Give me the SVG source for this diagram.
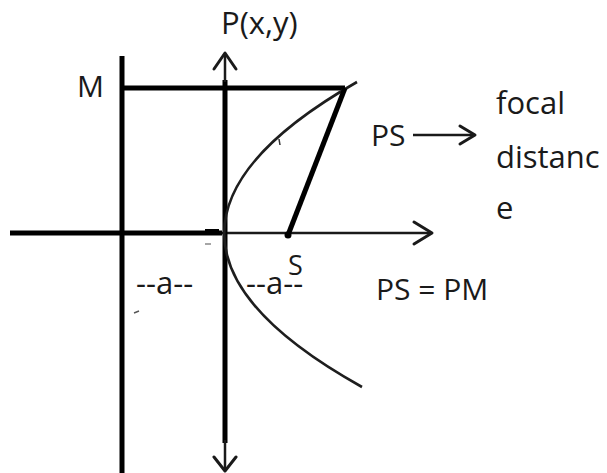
<svg xmlns="http://www.w3.org/2000/svg" width="607" height="473" viewBox="0 0 607 473">
<style>
  .thick { stroke:#000; stroke-width:5; fill:none; }
  .thin { stroke:#1a1a1a; stroke-width:2.5; fill:none; }
  .head { stroke:#1a1a1a; stroke-width:3; fill:none; stroke-linecap:round; stroke-linejoin:round; }
  .curve { stroke:#1e1e1e; stroke-width:2.6; fill:none; }
  text { font-family:"Open Sans","Liberation Sans",sans-serif; font-size:30px; fill:#1a1a1a; }
  .big { font-size:31px; }
</style>
<rect width="607" height="473" fill="#fff"/>
<g id="directrix">
  <line class="thick" x1="122" y1="56" x2="122" y2="473"/>
</g>
<g id="pm-line">
  <line class="thick" x1="120" y1="88" x2="345" y2="88"/>
</g>
<g id="x-axis">
  <line class="thick" x1="10" y1="233" x2="222" y2="233"/>
  <line x1="205" y1="232" x2="219" y2="232" stroke="#000" stroke-width="6"/>
  <line class="thin" x1="222" y1="233" x2="430" y2="233"/>
  <polyline class="head" points="414,222 432,233 414,244"/>
</g>
<g id="y-axis">
  <line class="thick" x1="225" y1="80" x2="225" y2="443"/>
  <line class="thin" x1="225" y1="82" x2="225" y2="54"/>
  <polyline class="head" points="214,69 225,53 236,69"/>
  <line class="thin" x1="225" y1="440" x2="225" y2="469"/>
  <polyline class="head" points="214,457 225,471 236,457"/>
</g>
<g id="parabola">
  <path class="curve" d="M357,82 Q89,235 362,387"/>
</g>
<g id="ps-line">
  <line class="thick" x1="345" y1="88" x2="288" y2="235"/>
  <circle cx="288" cy="235" r="3.5" fill="#000"/>
</g>
<g id="marks">
  <line x1="279" y1="139" x2="280" y2="145" stroke="#333" stroke-width="1.5"/>
  <line x1="134" y1="313" x2="139" y2="311" stroke="#555" stroke-width="1.5"/>
  <line x1="205" y1="244" x2="211" y2="244" stroke="#888" stroke-width="1.5"/>
</g>
<g id="ps-arrow">
  <line class="thin" x1="413" y1="135" x2="473" y2="135"/>
  <polyline class="head" points="460,126 475,135 460,144"/>
</g>
<g id="labels">
  <text x="221" y="34" class="big">P(x,y)</text>
  <text x="77" y="97">M</text>
  <text x="371" y="146">PS</text>
  <text x="496" y="114" class="big">focal</text>
  <text x="496" y="168" class="big">distanc</text>
  <text x="496" y="219" class="big">e</text>
  <text x="288" y="275" style="font-size:27px">S</text>
  <text x="136" y="294" class="big">--a--</text>
  <text x="246" y="294" class="big">--a--</text>
  <text x="376" y="300">PS = PM</text>
</g>
</svg>
